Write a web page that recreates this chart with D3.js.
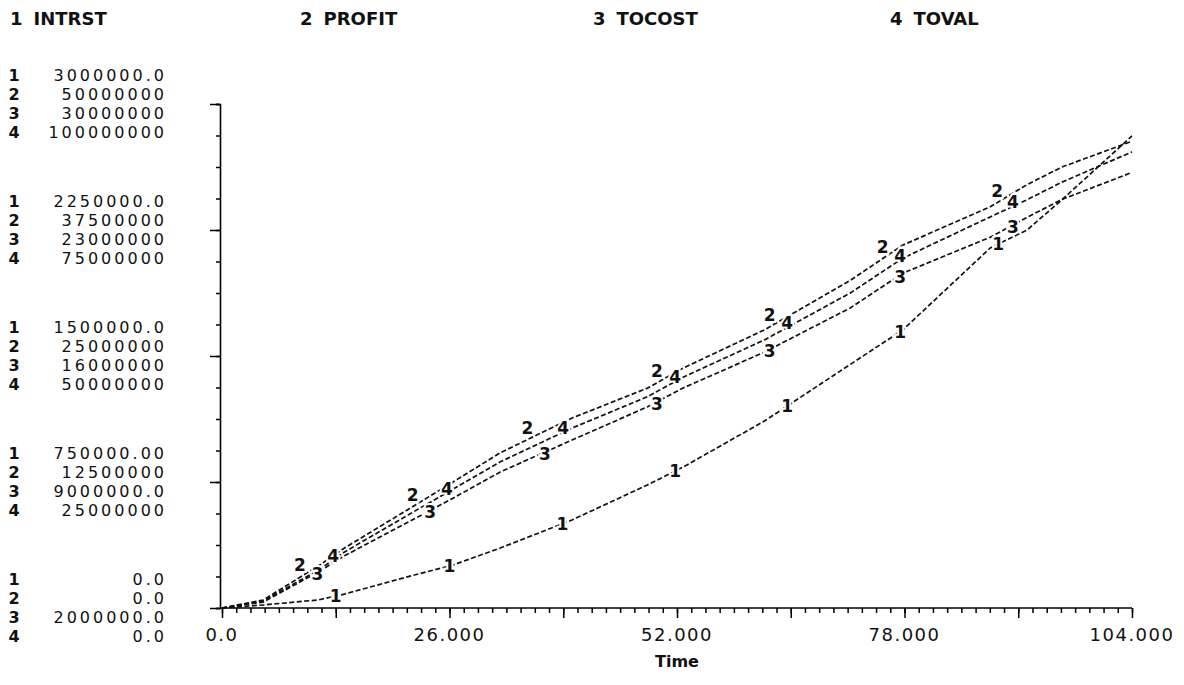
<!DOCTYPE html>
<html>
<head>
<meta charset="utf-8">
<script src="https://cdn.jsdelivr.net/npm/d3@7"></script>
<style>
  body { margin: 0; background: #fff; }
  text { font-family: "DejaVu Sans", sans-serif; fill: #111; }
</style>
</head>
<body>
<div id="chart"></div>
<script>
// series names in header
var seriesNames = ["INTRST", "PROFIT", "TOCOST", "TOVAL"];

// time samples
var time = [0, 4.7, 11, 14, 21.5, 26.4, 31.8, 40, 48.6, 52.7, 62, 71.8, 77.8, 87.8, 92, 96, 104];

var intrst = [0, 18e3, 48e3, 83e3, 190e3, 256e3, 357e3, 524e3, 732e3, 839e3, 1.113e6, 1.45e6, 1.655e6, 2.143e6, 2.25e6, 2.43e6, 2.81e6];
var profit = [0, 0.79e6, 4.17e6, 5.95e6, 9.9e6, 12.5e6, 15.4e6, 18.85e6, 21.8e6, 23.8e6, 27.6e6, 32.5e6, 36.0e6, 39.8e6, 42.0e6, 43.75e6, 46.3e6];
var tocost = [2.0e6, 2.33e6, 4.0e6, 4.9e6, 6.83e6, 8.1e6, 9.56e6, 11.33e6, 13.17e6, 14.22e6, 16.22e6, 18.67e6, 20.6e6, 22.6e6, 23.7e6, 24.7e6, 26.2e6];
var toval = [0, 1.4e6, 7.5e6, 11.1e6, 18.7e6, 23.6e6, 29.0e6, 35.7e6, 41.9e6, 45.8e6, 53.2e6, 62.5e6, 69.4e6, 77.6e6, 81.0e6, 84.5e6, 90.5e6];

// y ranges per series
var domain1 = [0, 3e6], domain2 = [0, 5e7], domain3 = [2e6, 3e7], domain4 = [0, 1e8];

// y tick labels, bottom to top
var ticks1 = ["0.0", "750000.00", "1500000.0", "2250000.0", "3000000.0"];
var ticks2 = ["0.0", "12500000", "25000000", "37500000", "50000000"];
var ticks3 = ["2000000.0", "9000000.0", "16000000", "23000000", "30000000"];
var ticks4 = ["0.0", "25000000", "50000000", "75000000", "100000000"];

// x tick labels
var xTicks = [0, 26, 52, 78, 104];
var xTickLabels = ["0.0", "26.000", "52.000", "78.000", "104.000"];

// times where the series numbers are printed on the curves
var lab1 = [13, 26, 38.9, 51.8, 64.6, 77.5, 88.7];
var lab2 = [8.9, 21.8, 34.9, 49.7, 62.6, 75.5, 88.6];
var lab3 = [10.9, 23.8, 36.9, 49.7, 62.6, 77.5, 90.4];
var lab4 = [12.7, 25.7, 39, 51.8, 64.6, 77.5, 90.4];

var W = 1184, H = 685;
var x0 = 222, x1 = 1132, yBot = 608, yTop = 104;

var svg = d3.select("#chart").append("svg")
  .attr("width", W).attr("height", H);

var x = d3.scaleLinear().domain([0, 104]).range([x0, x1]);
var level = d3.scaleLinear().domain([0, 4]).range([yBot, yTop]);

var series = [
  { id: 1, vals: intrst, y: d3.scaleLinear().domain(domain1).range([yBot, yTop]), ticks: ticks1, labs: lab1, dy: -1 },
  { id: 2, vals: profit, y: d3.scaleLinear().domain(domain2).range([yBot, yTop]), ticks: ticks2, labs: lab2, dy: -13 },
  { id: 3, vals: tocost, y: d3.scaleLinear().domain(domain3).range([yBot, yTop]), ticks: ticks3, labs: lab3, dy: 1 },
  { id: 4, vals: toval, y: d3.scaleLinear().domain(domain4).range([yBot, yTop]), ticks: ticks4, labs: lab4, dy: -5 }
];

// header
var headerX = [10, 300, 593, 890];
seriesNames.forEach(function(n, i) {
  var g = svg.append("text")
    .attr("x", headerX[i]).attr("y", 25)
    .style("font-size", "18px").style("font-weight", "bold");
  g.append("tspan").text(i + 1);
  g.append("tspan").attr("dx", 11).text(n);
});

// y axis: minor and major ticks
var minorLevels = d3.range(0, 4.001, 0.25);
svg.append("g")
  .attr("transform", "translate(220,0)")
  .call(d3.axisLeft(level).tickValues(minorLevels).tickSize(4).tickFormat(""))
  .call(function(g) { g.select(".domain").attr("stroke-width", 1.6); });
svg.append("g")
  .attr("transform", "translate(220,0)")
  .call(d3.axisLeft(level).tickValues([0, 1, 2, 3, 4]).tickSize(10).tickFormat(""))
  .call(function(g) { g.select(".domain").remove(); });
svg.selectAll(".tick line").attr("stroke-width", 1.5);

// y tick label blocks
var rowOff = [-29, -10, 9, 28];
[0, 1, 2, 3, 4].forEach(function(lv) {
  series.forEach(function(s, i) {
    var yy = level(lv) + rowOff[i] + 6;
    svg.append("text").attr("x", 14).attr("y", yy)
      .attr("text-anchor", "middle")
      .style("font-size", "16px").style("font-weight", "bold")
      .text(s.id);
    svg.append("text").attr("x", 167).attr("y", yy)
      .attr("text-anchor", "end")
      .style("font-size", "16px").style("letter-spacing", "3px")
      .text(s.ticks[lv]);
  });
});

// x axis
var minorT = d3.range(0, 104.001, 1.625);
svg.append("g")
  .attr("transform", "translate(0," + yBot + ")")
  .call(d3.axisBottom(x).tickValues(minorT).tickSize(5).tickFormat(""))
  .call(function(g) { g.select(".domain").attr("stroke-width", 1.6).attr("d", "M" + (x0 - 2) + ",0H" + x1); });
svg.append("g")
  .attr("transform", "translate(0," + yBot + ")")
  .call(d3.axisBottom(x).tickValues(d3.range(0, 104.001, 13)).tickSize(10).tickFormat(""))
  .call(function(g) { g.select(".domain").remove(); });
svg.selectAll(".tick line").attr("stroke-width", 1.5);

xTicks.forEach(function(t, i) {
  svg.append("text").attr("x", x(t)).attr("y", 641)
    .attr("text-anchor", "middle")
    .style("font-size", "18px").style("letter-spacing", "1.5px")
    .text(xTickLabels[i]);
});
svg.append("text").attr("x", x(52)).attr("y", 667)
  .attr("text-anchor", "middle")
  .style("font-size", "16px").style("font-weight", "bold")
  .text("Time");

// curves
var gLines = svg.append("g");
series.forEach(function(s) {
  var line = d3.line()
    .x(function(d, i) { return x(time[i]); })
    .y(function(d) { return s.y(d); });
  gLines.append("path")
    .datum(s.vals)
    .attr("d", line)
    .attr("fill", "none")
    .attr("stroke", "#111")
    .attr("stroke-width", 1.7)
    .attr("stroke-dasharray", "5,2.5");
});

// number labels on curves
function valueAt(s, t) {
  var i = d3.bisectRight(time, t) - 1;
  i = Math.max(0, Math.min(time.length - 2, i));
  var f = (t - time[i]) / (time[i + 1] - time[i]);
  return s.vals[i] + f * (s.vals[i + 1] - s.vals[i]);
}
series.forEach(function(s) {
  s.labs.forEach(function(t) {
    svg.append("text")
      .attr("x", x(t))
      .attr("y", s.y(valueAt(s, t)) + s.dy + 7)
      .attr("text-anchor", "middle")
      .style("font-size", "17px").style("font-weight", "bold")
      .style("stroke", "#fff").style("stroke-width", 4)
      .style("paint-order", "stroke")
      .text(s.id);
  });
});
</script>
</body>
</html>
